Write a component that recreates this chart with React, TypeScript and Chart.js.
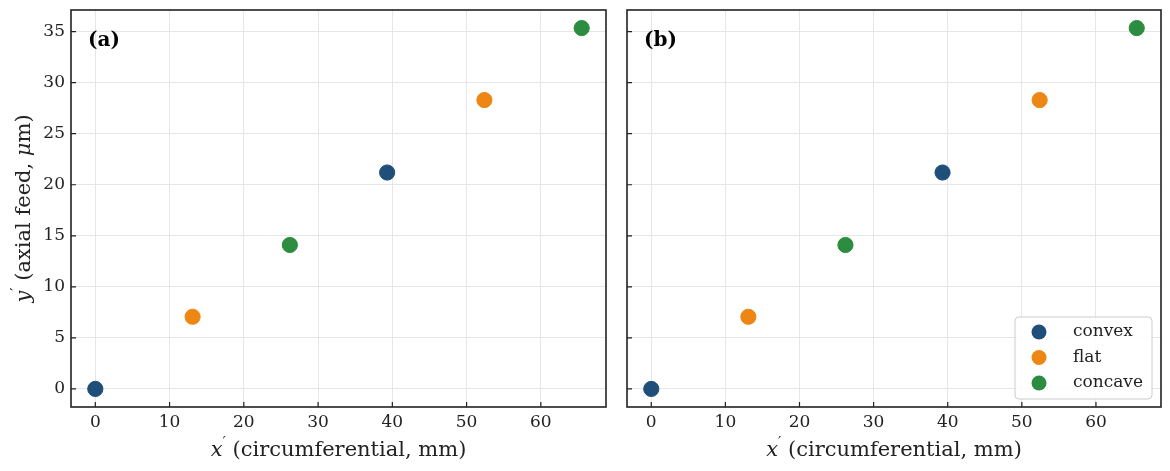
import { useEffect, useRef } from "react"
import { Chart, registerables } from "chart.js"

Chart.register(...registerables)

// data (same in both panels)
const seriesNames = ["convex", "flat", "concave"]
const seriesColors = ["#1f4e79", "#ee8614", "#2c8c3f"]
const convexX = [0, 39.3]
const convexY = [0, 21.2]
const flatX = [13.1, 52.4]
const flatY = [7.07, 28.3]
const concaveX = [26.2, 65.5]
const concaveY = [14.1, 35.35]
const xTicks = [0, 10, 20, 30, 40, 50, 60]
const yTicks = [0, 5, 10, 15, 20, 25, 30, 35]

const FONT = "'DejaVu Serif', serif"

type Part = { text: string; italic?: boolean; sup?: boolean }

function drawParts(ctx: CanvasRenderingContext2D, parts: Part[], size: number) {
  const fontOf = (p: Part) => `${p.italic ? "italic " : ""}${p.sup ? size * 0.7 : size}px ${FONT}`
  let total = 0
  for (const p of parts) {
    ctx.font = fontOf(p)
    total += ctx.measureText(p.text).width
  }
  let x = -total / 2
  ctx.textAlign = "left"
  ctx.textBaseline = "middle"
  for (const p of parts) {
    ctx.font = fontOf(p)
    ctx.fillText(p.text, x, p.sup ? -size * 0.35 : 0)
    x += ctx.measureText(p.text).width
  }
}

const xTitle: Part[] = [{ text: "x", italic: true }, { text: "′", sup: true }, { text: " (circumferential, mm)" }]
const yTitle: Part[] = [
  { text: "y", italic: true },
  { text: "′", sup: true },
  { text: " (axial feed, " },
  { text: "μ", italic: true },
  { text: "m)" },
]

function makeDecor(panel: string, first: boolean) {
  return {
    id: "decor",
    afterDraw(chart: any) {
      const ctx: CanvasRenderingContext2D = chart.ctx
      const a = chart.chartArea
      const xs = chart.scales.x
      const ys = chart.scales.y
      ctx.save()
      // inward ticks
      ctx.strokeStyle = "#222"
      ctx.lineWidth = 1.2
      ctx.beginPath()
      for (const t of xTicks) {
        const px = xs.getPixelForValue(t)
        ctx.moveTo(px, a.bottom)
        ctx.lineTo(px, a.bottom - 5)
      }
      for (const t of yTicks) {
        const py = ys.getPixelForValue(t)
        ctx.moveTo(a.left, py)
        ctx.lineTo(a.left + 5, py)
      }
      ctx.stroke()
      // frame
      ctx.lineWidth = 1.6
      ctx.strokeRect(a.left, a.top, a.right - a.left, a.bottom - a.top)

      // panel label
      ctx.fillStyle = "#000"
      ctx.font = `bold 20px ${FONT}`
      ctx.textAlign = "left"
      ctx.textBaseline = "alphabetic"
      ctx.fillText(panel, a.left + 17, a.top + 36)

      // axis titles
      ctx.fillStyle = "#222"
      ctx.save()
      ctx.translate((a.left + a.right) / 2, a.bottom + 44)
      drawParts(ctx, xTitle, 21)
      ctx.restore()
      if (first) {
        ctx.save()
        ctx.translate(25, (a.top + a.bottom) / 2)
        ctx.rotate(-Math.PI / 2)
        drawParts(ctx, yTitle, 21)
        ctx.restore()
      } else {
        // legend
        const w = 137
        const h = 82
        const lx = a.right - 9 - w
        const ly = a.bottom - 8 - h
        ctx.fillStyle = "rgba(255,255,255,0.85)"
        ctx.strokeStyle = "#cccccc"
        ctx.lineWidth = 1
        ctx.beginPath()
        ctx.roundRect(lx, ly, w, h, 4)
        ctx.fill()
        ctx.stroke()
        chart.data.datasets.forEach((ds: any, i: number) => {
          const cy = ly + 15 + i * 25.5
          ctx.fillStyle = ds.backgroundColor
          ctx.beginPath()
          ctx.arc(lx + 24, cy, 7.5, 0, Math.PI * 2)
          ctx.fill()
          ctx.fillStyle = "#222"
          ctx.font = `17px ${FONT}`
          ctx.textBaseline = "middle"
          ctx.fillText(ds.label, lx + 58, cy)
        })
      }
      ctx.restore()
    },
  }
}

function Panel({ panel, first }: { panel: string; first: boolean }) {
  const chartRef = useRef<HTMLCanvasElement>(null)

  useEffect(() => {
    if (!chartRef.current) return
    const xsList = [convexX, flatX, concaveX]
    const ysList = [convexY, flatY, concaveY]
    const chart = new Chart(chartRef.current, {
      type: "scatter",
      data: {
        datasets: seriesNames.map((name, i) => ({
          label: name,
          data: xsList[i].map((x, j) => ({ x, y: ysList[i][j] })),
          backgroundColor: seriesColors[i],
          borderColor: seriesColors[i],
          borderWidth: 1,
          pointRadius: 7.6,
          pointHoverRadius: 7.6,
        })),
      },
      options: {
        animation: false,
        responsive: true,
        maintainAspectRatio: false,
        layout: { padding: { top: 10, right: first ? 10 : 9, left: 0, bottom: 0 } },
        plugins: { legend: { display: false }, tooltip: { enabled: false } },
        scales: {
          x: {
            type: "linear",
            min: -3.275,
            max: 68.775,
            afterBuildTicks: (s: any) => {
              s.ticks = xTicks.map((v) => ({ value: v }))
            },
            afterFit: (s: any) => {
              s.height = 64
              s.paddingLeft = 0
              s.paddingRight = 0
            },
            grid: { color: "#e6e6e6", lineWidth: 1, drawTicks: false },
            border: { display: false },
            ticks: { color: "#222", padding: 5, font: { family: FONT, size: 17 }, maxRotation: 0 },
          },
          y: {
            type: "linear",
            min: -1.77,
            max: 37.12,
            afterBuildTicks: (s: any) => {
              s.ticks = yTicks.map((v) => ({ value: v }))
            },
            afterFit: (s: any) => {
              s.width = first ? 71 : 11
              s.paddingTop = 0
              s.paddingBottom = 0
            },
            grid: { color: "#e6e6e6", lineWidth: 1, drawTicks: false },
            border: { display: false },
            ticks: { display: first, color: "#222", padding: 6, font: { family: FONT, size: 17 } },
          },
        },
      },
      plugins: [makeDecor(panel, first)],
    })
    return () => {
      chart.destroy()
    }
  }, [panel, first])

  return <canvas ref={chartRef}></canvas>
}

export default function App() {
  return (
    <div style={{ position: "fixed", left: 0, top: 0, width: 1170, height: 471, background: "#fff" }}>
      <div style={{ position: "absolute", left: 0, top: 0, width: 616, height: 471 }}>
        <Panel panel="(a)" first={true} />
      </div>
      <div style={{ position: "absolute", left: 616, top: 0, width: 554, height: 471 }}>
        <Panel panel="(b)" first={false} />
      </div>
    </div>
  )
}
